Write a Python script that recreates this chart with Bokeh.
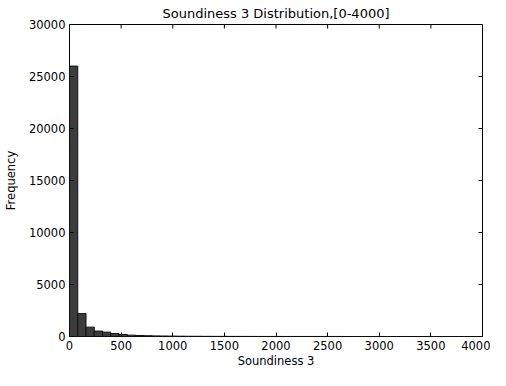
import math
from bokeh.plotting import figure
from bokeh.models import Range1d, FixedTicker
from bokeh.embed import file_html
from bokeh.resources import INLINE

# Histogram bins (width 80) over [0, 4000]
bin_left = [i * 80 for i in range(50)]
bin_right = [i * 80 + 80 for i in range(50)]
counts = [26000, 2200, 900, 520, 420, 280, 200, 130, 100, 75,
          60, 48, 38, 30, 24, 20, 16, 13, 11, 9,
          8, 7, 6, 5, 4, 4, 3, 3, 3, 2,
          2, 2, 2, 1, 1, 1, 1, 1, 1, 1,
          1, 1, 0, 1, 0, 0, 1, 0, 0, 1]
x_ticks = [0, 500, 1000, 1500, 2000, 2500, 3000, 3500, 4000]
y_ticks = [0, 5000, 10000, 15000, 20000, 25000, 30000]
x_max = 4000
y_max = 30000

FONT = "DejaVu Sans"

p = figure(width=490, height=370, output_backend="svg", toolbar_location=None,
           x_range=Range1d(0, x_max), y_range=Range1d(0, y_max),
           title="Soundiness 3 Distribution,[0-4000]",
           min_border_left=67, min_border_right=8, min_border_top=0, min_border_bottom=0)

p.quad(left=bin_left, right=bin_right, bottom=0, top=counts,
       fill_color="#3c3c3c", line_color="#111111", line_width=1)

# inward ticks on top and right edges (matplotlib classic style)
p.ray(x=x_ticks, y=[y_max] * len(x_ticks), length=4, length_units="screen",
      angle=-math.pi / 2, line_color="black", line_width=1)
p.ray(x=[x_max] * len(y_ticks), y=y_ticks, length=4, length_units="screen",
      angle=math.pi, line_color="black", line_width=1)

p.grid.visible = False
p.outline_line_color = "black"
p.outline_line_width = 1
p.background_fill_color = "white"
p.border_fill_color = "white"

p.title.text_font = FONT
p.title.text_font_size = "13px"
p.title.text_font_style = "normal"
p.title.text_color = "black"
p.title.align = "center"
p.title.standoff = 7
p.title.offset = 0

for ax, ticks in ((p.xaxis[0], x_ticks), (p.yaxis[0], y_ticks)):
    ax.ticker = FixedTicker(ticks=ticks)
    ax.major_tick_in = 4
    ax.major_tick_out = 0
    ax.minor_tick_in = 0
    ax.minor_tick_out = 0
    ax.axis_line_color = None
    ax.major_tick_line_color = "black"
    ax.major_label_text_font = FONT
    ax.major_label_text_font_size = "11.5px"
    ax.major_label_text_color = "black"
    ax.axis_label_text_font = FONT
    ax.axis_label_text_font_size = "11.5px"
    ax.axis_label_text_font_style = "normal"
    ax.axis_label_text_color = "black"

p.xaxis[0].axis_label = "Soundiness 3"
p.xaxis[0].major_label_standoff = 4
p.xaxis[0].axis_label_standoff = 1
p.yaxis[0].axis_label = "Frequency"
p.yaxis[0].major_label_standoff = 4
p.yaxis[0].axis_label_standoff = 8

open("out.html", "w").write(file_html(p, INLINE))
